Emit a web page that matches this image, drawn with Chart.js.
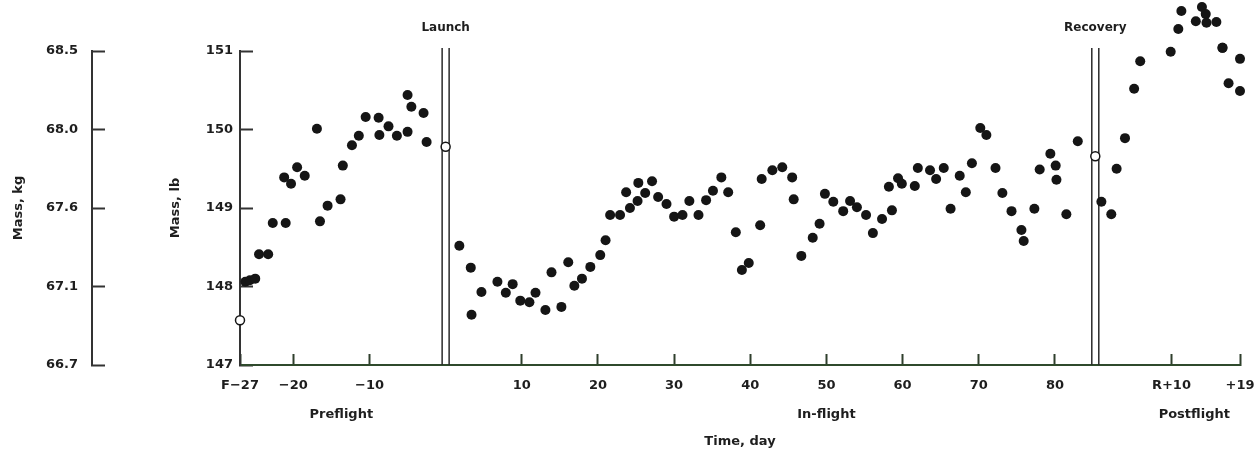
<!DOCTYPE html>
<html>
<head>
<meta charset="utf-8">
<script src="https://cdn.jsdelivr.net/npm/chart.js@4.4.0/dist/chart.umd.min.js"></script>
<style>
  body { margin: 0; background: #fff; }
  .canvas { width: 1254px; height: 456px; }
</style>
</head>
<body>
<div class="canvas"><canvas id="cv"></canvas></div>
<script>
// day of recovery on the common time axis (launch = day 0)
const RECOVERY = 85.3;

// preflight, days before launch
const preDays = [-26.3, -25.7, -25.0, -24.5, -23.3, -22.7, -21.2, -21.0, -20.3, -19.5, -18.5, -16.9, -16.5, -15.5,
  -13.8, -13.5, -12.3, -11.4, -10.5, -8.8, -8.7, -7.5, -6.4, -5.0, -5.0, -4.5, -2.9, -2.5];
const preMass = [148.06, 148.08, 148.10, 148.41, 148.41, 148.81, 149.39, 148.81, 149.31, 149.52, 149.41, 150.01, 148.83, 149.03,
  149.11, 149.54, 149.80, 149.92, 150.16, 150.15, 149.93, 150.04, 149.92, 150.44, 149.97, 150.29, 150.21, 149.84];

// in-flight, days after launch
const flightDays = [1.8, 3.3, 3.4, 4.7, 6.8, 7.9, 8.8, 9.8, 11.0, 11.8, 13.1, 13.9, 15.2, 16.1, 16.9, 17.9, 19.0, 20.3,
  21.0, 21.6, 22.9, 23.7, 24.2, 25.2, 25.3, 26.2, 27.1, 27.9, 29.0, 30.0, 31.1, 32.0, 33.2, 34.2, 35.1, 36.2, 37.1,
  38.1, 38.9, 39.8, 41.3, 41.5, 42.9, 44.2, 45.5, 45.7, 46.7, 48.2, 49.1, 49.8, 50.9, 52.2, 53.1, 54.0, 55.2, 56.1,
  57.3, 58.2, 58.6, 59.4, 59.9, 61.6, 62.0, 63.6, 64.4, 65.4, 66.3, 67.5, 68.3, 69.1, 70.2, 71.0, 72.2, 73.1, 74.3,
  75.6, 75.9, 77.3, 78.0, 79.4, 80.1, 80.2, 81.5, 83.0];
const flightMass = [148.52, 148.24, 147.64, 147.93, 148.06, 147.92, 148.03, 147.82, 147.80, 147.92, 147.70, 148.18, 147.74,
  148.31, 148.01, 148.10, 148.25, 148.40, 148.59, 148.91, 148.91, 149.20, 149.00, 149.09, 149.32, 149.19, 149.34, 149.14,
  149.05, 148.89, 148.91, 149.09, 148.91, 149.10, 149.22, 149.39, 149.20, 148.69, 148.21, 148.30, 148.78, 149.37, 149.48,
  149.52, 149.39, 149.11, 148.39, 148.62, 148.80, 149.18, 149.08, 148.96, 149.09, 149.01, 148.91, 148.68, 148.86, 149.27,
  148.97, 149.38, 149.31, 149.28, 149.51, 149.48, 149.37, 149.51, 148.99, 149.41, 149.20, 149.57, 150.02, 149.93, 149.51,
  149.19, 148.96, 148.72, 148.58, 148.99, 149.49, 149.69, 149.54, 149.36, 148.92, 149.85];

// postflight, days after recovery (R+n)
const postDays = [0.8, 2.1, 2.8, 3.9, 5.1, 5.9, 9.9, 10.9, 11.3, 13.2, 14.0, 14.5, 14.6, 15.9, 16.7, 17.5, 19.0, 19.0];
const postMass = [149.08, 148.92, 149.50, 149.89, 150.52, 150.87, 150.99, 151.28, 151.51, 151.38, 151.56, 151.47, 151.36,
  151.37, 151.04, 150.59, 150.90, 150.49];

// open circles: F-27, launch, recovery
const openDays = [-27, 0, RECOVERY];
const openMass = [147.57, 149.78, 149.66];

// axis ticks
const xTickValues = [-27, -20, -10, 10, 20, 30, 40, 50, 60, 70, 80, RECOVERY + 10, RECOVERY + 19];
const xTickLabels = ['F\u221227', '\u221220', '\u221210', '10', '20', '30', '40', '50', '60', '70', '80', 'R+10', '+19'];
const lbTicks = [147, 148, 149, 150, 151];
const kgLabels = ['66.7', '67.1', '67.6', '68.0', '68.5'];

const eventDays = [0, RECOVERY];
const eventNames = ['Launch', 'Recovery'];
const phaseDays = [-13.7, 50, RECOVERY + 13];
const phaseNames = ['Preflight', 'In-flight', 'Postflight'];

const toPoints = (xs, ys) => xs.map((v, i) => ({x: v, y: ys[i]}));

Chart.defaults.font.family = "'DejaVu Sans', sans-serif";
Chart.defaults.font.weight = 'bold';
Chart.defaults.font.size = 13;
Chart.defaults.color = '#1e1e1e';

const markers = {
  id: 'markers',
  beforeDatasetsDraw(chart) {
    const {ctx, chartArea, scales: {x}} = chart;
    ctx.save();
    ctx.strokeStyle = '#2a2a2a';
    ctx.lineWidth = 1.5;
    eventDays.forEach(d => {
      const px = x.getPixelForValue(d);
      [-3.5, 3.5].forEach(o => {
        ctx.beginPath();
        ctx.moveTo(px + o, chartArea.top - 3);
        ctx.lineTo(px + o, chartArea.bottom);
        ctx.stroke();
      });
    });
    ctx.restore();
  },
  afterDatasetsDraw(chart) {
    // points above the 151 lb tick are skipped by Chart.js, draw them anyway
    const {ctx, chartArea} = chart;
    const whole = {left: 0, top: 0, right: chart.width, bottom: chart.height};
    chart.getDatasetMeta(0).data.forEach(el => {
      if (el.y < chartArea.top) el.draw(ctx, whole);
    });
  },
  afterDraw(chart) {
    const {ctx, scales: {x}} = chart;
    ctx.save();
    ctx.fillStyle = '#1e1e1e';
    ctx.textAlign = 'center';
    ctx.textBaseline = 'middle';
    ctx.font = "bold 12px 'DejaVu Sans'";
    eventDays.forEach((d, i) => ctx.fillText(eventNames[i], x.getPixelForValue(d), 28));
    ctx.font = "bold 13px 'DejaVu Sans'";
    phaseDays.forEach((d, i) => ctx.fillText(phaseNames[i], x.getPixelForValue(d), 415));
    ctx.restore();
  }
};

new Chart(document.getElementById('cv'), {
  type: 'scatter',
  data: {
    datasets: [{
      data: toPoints(preDays, preMass).concat(toPoints(flightDays, flightMass),
        toPoints(postDays.map(d => d + RECOVERY), postMass)),
      backgroundColor: '#151515',
      borderWidth: 0,
      pointRadius: 5,
      clip: false,
      order: 2
    }, {
      data: toPoints(openDays, openMass),
      backgroundColor: '#fff',
      borderColor: '#151515',
      borderWidth: 1.5,
      pointRadius: 4.5,
      clip: false,
      order: 1
    }]
  },
  options: {
    responsive: true,
    maintainAspectRatio: false,
    animation: false,
    layout: { padding: { top: 51, right: 14, left: 0, bottom: 0 } },
    plugins: { legend: { display: false }, tooltip: { enabled: false } },
    scales: {
      x: {
        type: 'linear',
        min: -27,
        max: RECOVERY + 19,
        afterBuildTicks: (scale) => { scale.ticks = xTickValues.map(v => ({value: v})); },
        afterFit: (scale) => { scale.height = 91; scale.paddingLeft = 0; scale.paddingRight = 0; },
        ticks: {
          autoSkip: false, maxRotation: 0, padding: 24,
          callback: (v, i) => xTickLabels[i]
        },
        grid: { drawOnChartArea: false, tickLength: -11, color: '#2f3f2c', tickWidth: 2 },
        border: { display: true, color: '#2f4a2c', width: 2 },
        title: { display: true, text: 'Time, day', padding: { top: 0, bottom: 7 } }
      },
      y: {
        min: 147,
        max: 151,
        weight: 0,
        afterBuildTicks: (scale) => { scale.ticks = lbTicks.map(v => ({value: v})); },
        afterFit: (scale) => { scale.width = 148; },
        ticks: { padding: 20 },
        grid: { drawOnChartArea: false, tickLength: -13, color: '#333', tickWidth: 2 },
        border: { display: true, color: '#333', width: 2 },
        title: { display: true, text: 'Mass, lb', padding: { top: 76, bottom: 0 } }
      },
      yKg: {
        position: 'left',
        min: 147,
        max: 151,
        weight: 1,
        afterBuildTicks: (scale) => { scale.ticks = lbTicks.map(v => ({value: v})); },
        afterFit: (scale) => { scale.width = 92; },
        ticks: { padding: 27, callback: (v, i) => kgLabels[i] },
        grid: { drawOnChartArea: false, tickLength: -13, color: '#333', tickWidth: 2 },
        border: { display: true, color: '#333', width: 2 },
        title: { display: true, text: 'Mass, kg', padding: { top: 11, bottom: 0 } }
      }
    }
  },
  plugins: [markers]
});
</script>
</body>
</html>
